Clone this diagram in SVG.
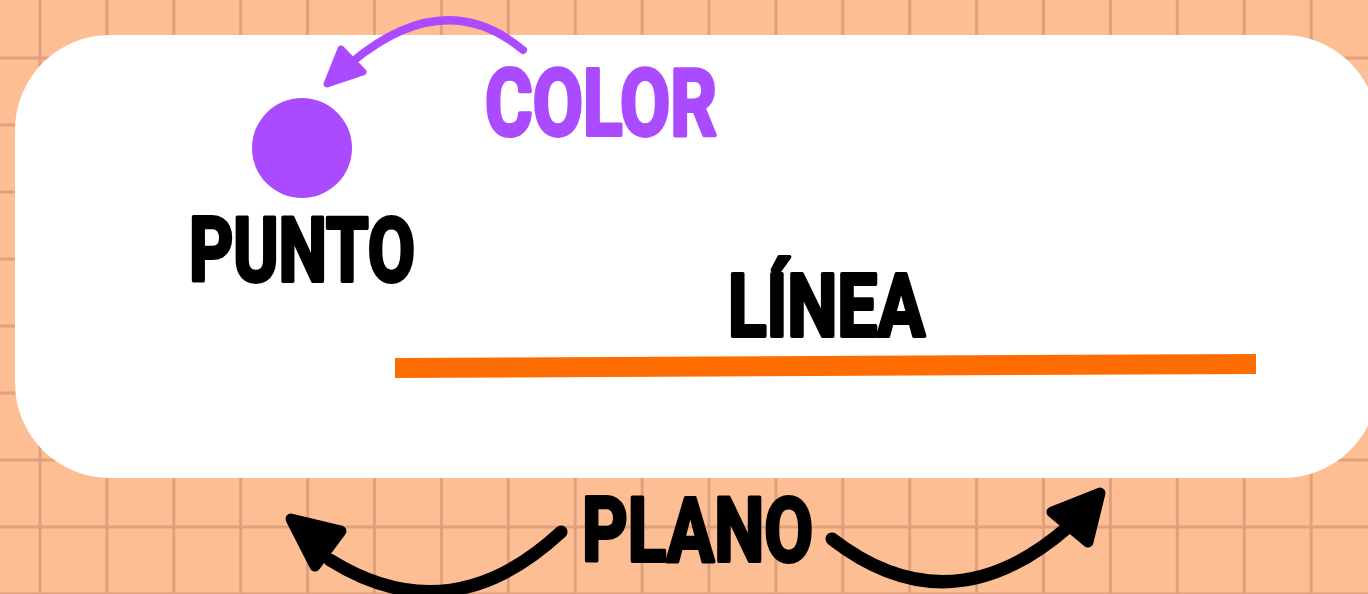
<svg xmlns="http://www.w3.org/2000/svg" width="1368" height="594" viewBox="0 0 1368 594">
  <defs>
    <style>
      .grid { stroke: #dfa17c; stroke-width: 3; fill: none; }
      .label { font-family: Roboto, "Liberation Sans", sans-serif; font-weight: 700; stroke-linejoin: round; stroke-width: 4; }
      .dark { fill: #000000; stroke: #000000; }
      .violet { fill: #ab4bff; stroke: #ab4bff; }
      .curve { fill: none; stroke-linecap: round; }
      .head { stroke-linejoin: round; }
    </style>
  </defs>

  <!-- squared paper background -->
  <rect x="0" y="0" width="1368" height="594" fill="#febe94"/>
  <path class="grid" d="M40 0V594 M106.9 0V594 M173.8 0V594 M240.7 0V594 M307.6 0V594 M374.5 0V594 M441.4 0V594 M508.3 0V594 M575.2 0V594 M642.1 0V594 M709 0V594 M775.9 0V594 M842.8 0V594 M909.7 0V594 M976.6 0V594 M1043.5 0V594 M1110.4 0V594 M1177.3 0V594 M1244.2 0V594 M1311.1 0V594 M0 58H1368 M0 125H1368 M0 192H1368 M0 259H1368 M0 326H1368 M0 393H1368 M0 460H1368 M0 527H1368 M0 594H1368"/>

  <!-- white card -->
  <rect x="15" y="35" width="1363" height="443" rx="95" ry="95" fill="#ffffff"/>

  <g id="punto">
    <circle cx="302" cy="148" r="50" fill="#ab4bff"/>
    <text class="label dark" x="189" y="281" font-size="89" textLength="226" lengthAdjust="spacingAndGlyphs">PUNTO</text>
  </g>

  <g id="color">
    <text class="label violet" x="485" y="135" font-size="92" textLength="232" lengthAdjust="spacingAndGlyphs">COLOR</text>
  </g>

  <g id="linea">
    <text class="label dark" x="728" y="336" font-size="88" textLength="197" lengthAdjust="spacingAndGlyphs">LÍNEA</text>
    <polygon points="395,358 1256,354 1256,374 395,378" fill="#ff6d00"/>
  </g>

  <g id="plano">
    <text class="label dark" x="582" y="561" font-size="89" textLength="231" lengthAdjust="spacingAndGlyphs">PLANO</text>
  </g>

  <!-- connectors -->
  <g id="connectors">
    <path class="curve" d="M523 50 Q445 -15 352 62" stroke="#ab4bff" stroke-width="8"/>
    <polygon class="head" points="327,84 341,49 363,72" fill="#ab4bff" stroke="#ab4bff" stroke-width="7"/>

    <path class="curve" d="M561 532 Q450 635 330 560" stroke="#000000" stroke-width="13"/>
    <polygon class="head" points="291,519 341,531 315,566" fill="#000000" stroke="#000000" stroke-width="11"/>

    <path class="curve" d="M832 539 Q950 630 1068 527" stroke="#000000" stroke-width="13"/>
    <polygon class="head" points="1100,493 1052,512 1088,542" fill="#000000" stroke="#000000" stroke-width="11"/>
  </g>
</svg>
